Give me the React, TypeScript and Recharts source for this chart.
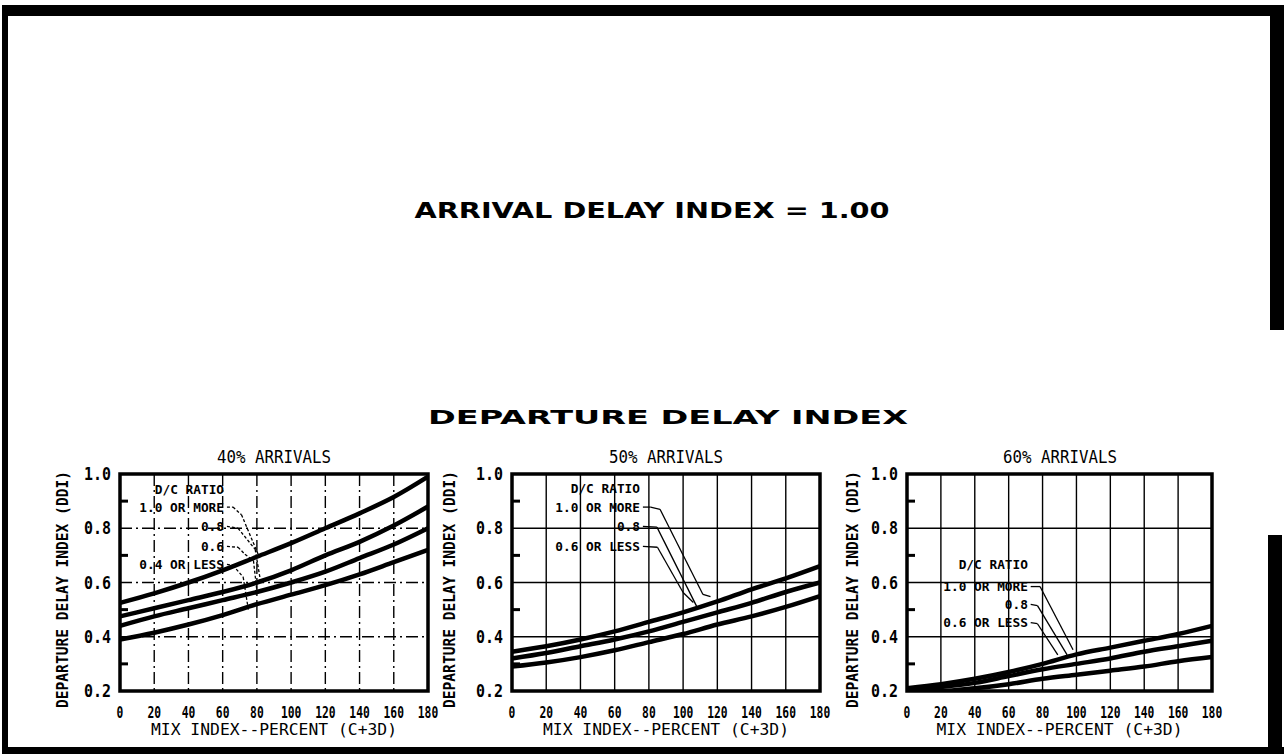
import React from 'react';
import { LineChart, Line, XAxis, YAxis, CartesianGrid, ReferenceArea, ReferenceLine, ReferenceDot } from 'recharts';

const MIX = [0, 20, 40, 60, 80, 100, 120, 140, 160, 180];
const Y_TICKS = [0.2, 0.3, 0.4, 0.5, 0.6, 0.7, 0.8, 0.9, 1.0];
const GRID_X = [20, 40, 60, 80, 100, 120, 140, 160];
const GRID_Y = [0.4, 0.6, 0.8];

// departure delay index (one value per MIX point)
const DDI_40_R10 = [0.525, 0.56, 0.6, 0.645, 0.695, 0.745, 0.8, 0.855, 0.915, 0.99];
const DDI_40_R08 = [0.475, 0.505, 0.535, 0.565, 0.6, 0.645, 0.7, 0.75, 0.81, 0.88];
const DDI_40_R06 = [0.44, 0.475, 0.505, 0.535, 0.565, 0.6, 0.64, 0.69, 0.74, 0.8];
const DDI_40_R04 = [0.39, 0.415, 0.445, 0.48, 0.52, 0.555, 0.59, 0.63, 0.675, 0.72];

const DDI_50_R10 = [0.345, 0.365, 0.39, 0.42, 0.455, 0.49, 0.53, 0.575, 0.615, 0.66];
const DDI_50_R08 = [0.32, 0.34, 0.365, 0.39, 0.42, 0.455, 0.49, 0.525, 0.565, 0.6];
const DDI_50_R06 = [0.29, 0.305, 0.325, 0.35, 0.38, 0.41, 0.445, 0.475, 0.51, 0.55];

const DDI_60_R10 = [0.21, 0.225, 0.245, 0.27, 0.3, 0.335, 0.36, 0.385, 0.41, 0.44];
const DDI_60_R08 = [0.205, 0.215, 0.23, 0.255, 0.28, 0.3, 0.32, 0.345, 0.365, 0.385];
const DDI_60_R06 = [0.2, 0.2, 0.21, 0.225, 0.245, 0.26, 0.275, 0.29, 0.31, 0.325];

const RATIO_LABELS_4 = ['1.0 OR MORE', '0.8', '0.6', '0.4 OR LESS'];
const RATIO_LABELS_3 = ['1.0 OR MORE', '0.8', '0.6 OR LESS'];

const MONO = '"DejaVu Sans Mono", "Liberation Mono", monospace';
const SANS = '"DejaVu Sans", "Liberation Sans", sans-serif';

function rows(series: number[][]) {
  return MIX.map((m, i) => {
    const row: Record<string, number> = { mix: m };
    series.forEach((s, j) => { row['s' + j] = s[i]; });
    return row;
  });
}

type Pt = [number, number];

const PANELS = [
  {
    title: '40% ARRIVALS', left: 50, mr: 22, yGap: 57, gridDash: '12 4 2 4', leaderDash: '3 2',
    series: [DDI_40_R10, DDI_40_R08, DDI_40_R06, DDI_40_R04], labels: RATIO_LABELS_4,
    noteX: 60.8, noteY: [0.944, 0.878, 0.807, 0.733, 0.667],
    leaders: [
      [[62.5, 0.878], [66, 0.878], [71, 0.85], [81, 0.7]],
      [[62.5, 0.807], [69, 0.8], [79, 0.722], [82, 0.61]],
      [[62.5, 0.733], [69, 0.73], [73, 0.704], [78, 0.68], [80, 0.57]],
      [[62.5, 0.667], [66, 0.663], [72, 0.62], [75, 0.5]],
    ] as Pt[][],
  },
  {
    title: '50% ARRIVALS', left: 442, mr: 22, yGap: 62, gridDash: undefined, leaderDash: undefined,
    series: [DDI_50_R10, DDI_50_R08, DDI_50_R06], labels: RATIO_LABELS_3,
    noteX: 74.8, noteY: [0.948, 0.878, 0.807, 0.733],
    leaders: [
      [[76.5, 0.878], [81, 0.878], [86.5, 0.87], [111.6, 0.556], [116, 0.548]],
      [[76.5, 0.807], [84.7, 0.804], [108, 0.511]],
      [[76.5, 0.733], [85, 0.73], [100, 0.563], [106, 0.526]],
    ] as Pt[][],
  },
  {
    title: '60% ARRIVALS', left: 837, mr: 25, yGap: 54, gridDash: undefined, leaderDash: undefined,
    series: [DDI_60_R10, DDI_60_R08, DDI_60_R06], labels: RATIO_LABELS_3,
    noteX: 71.4, noteY: [0.667, 0.585, 0.519, 0.452],
    leaders: [
      [[73, 0.585], [78.5, 0.585], [98, 0.352]],
      [[73, 0.519], [77, 0.515], [94.5, 0.333]],
      [[73, 0.452], [77, 0.448], [89, 0.333]],
    ] as Pt[][],
  },
];

function YTick(p: any) {
  const { x, y, payload } = p;
  const v = Number(payload.value);
  const major = Math.round(v * 10) % 2 === 0;
  const edge = x + 9;
  return (
    <g>
      {!major && <line x1={edge} x2={edge + 8} y1={y} y2={y} stroke="#000" strokeWidth={3} />}
      {major && (
        <text x={x} y={y} dy="0.36em" textAnchor="end" fontFamily={MONO} fontWeight="bold" fontSize={17}
          textLength={27} lengthAdjust="spacingAndGlyphs" fill="#000">{v.toFixed(1)}</text>
      )}
    </g>
  );
}

function XTick(p: any) {
  const { x, y, payload } = p;
  const s = String(payload.value);
  return (
    <text x={x} y={y} dy="0.36em" textAnchor="middle" fontFamily={MONO} fontWeight="bold" fontSize={16}
      textLength={s.length * 6.8} lengthAdjust="spacingAndGlyphs" fill="#000">{s}</text>
  );
}

function noteLabel(text: string) {
  return (lp: any) => {
    const vb = lp.viewBox;
    const cx = vb.x + vb.width / 2;
    const cy = vb.y + vb.height / 2;
    return (
      <text x={cx} y={cy} dy="0.36em" textAnchor="end" fontFamily={MONO} fontWeight="bold" fontSize={12.5}
        textLength={text.length * 7.7} lengthAdjust="spacingAndGlyphs" fill="#000">{text}</text>
    );
  };
}

function Panel({ cfg }: { cfg: typeof PANELS[number] }) {
  const data = rows(cfg.series);
  const notes = ['D/C RATIO', ...cfg.labels];
  return (
    <div style={{ position: 'absolute', left: cfg.left, top: 440 }}>
      <LineChart width={400} height={310} data={data} margin={{ top: 34, right: cfg.mr, bottom: 14, left: 0 }}>
        <CartesianGrid horizontalValues={GRID_Y} verticalValues={GRID_X} stroke="#000" strokeWidth={1.4}
          strokeDasharray={cfg.gridDash} />
        <XAxis dataKey="mix" type="number" domain={[0, 180]} ticks={MIX} interval={0} height={45}
          axisLine={false} tickLine={false} tickSize={0} tickMargin={21} tick={(p: any) => <XTick {...p} />}
          label={{
            content: (lp: any) => {
              const vb = lp.viewBox;
              return (
                <text x={vb.x + vb.width / 2} y={vb.y + 44} textAnchor="middle" fontFamily={MONO} fontSize={16}
                  textLength={246} lengthAdjust="spacingAndGlyphs" fill="#000">MIX INDEX--PERCENT (C+3D)</text>
              );
            },
          }} />
        <YAxis type="number" domain={[0.2, 1.0]} ticks={Y_TICKS} interval={0} width={70} allowDataOverflow
          axisLine={false} tickLine={false} tickSize={0} tickMargin={9} tick={(p: any) => <YTick {...p} />}
          label={{
            content: (lp: any) => {
              const vb = lp.viewBox;
              const cx = vb.x + vb.width - cfg.yGap;
              const cy = vb.y + vb.height / 2 + 7;
              return (
                <text x={cx} y={cy} dy="0.36em" transform={`rotate(-90 ${cx} ${cy})`} textAnchor="middle"
                  fontFamily={MONO} fontWeight="bold" fontSize={15} textLength={237} lengthAdjust="spacingAndGlyphs"
                  fill="#000">DEPARTURE DELAY INDEX (DDI)</text>
              );
            },
          }} />
        {cfg.leaders.map((pts, i) =>
          pts.slice(1).map((pt, j) => (
            <ReferenceLine key={`l${i}-${j}`} segment={[{ x: pts[j][0], y: pts[j][1] }, { x: pt[0], y: pt[1] }]}
              stroke="#000" strokeWidth={1.3} strokeDasharray={cfg.leaderDash} />
          ))
        )}
        {notes.map((t, i) => (
          <ReferenceDot key={`n${i}`} x={cfg.noteX} y={cfg.noteY[i]} r={1} fill="none" stroke="none"
            label={{ content: noteLabel(t) }} />
        ))}
        {cfg.series.map((_, i) => (
          <Line key={i} type="monotone" dataKey={'s' + i} stroke="#000" strokeWidth={4.5} dot={false}
            isAnimationActive={false} />
        ))}
        <ReferenceArea x1={0} x2={180} y1={0.2} y2={1.0} fill="none" stroke="#000" strokeWidth={3.5} />
      </LineChart>
    </div>
  );
}

export default function App() {
  const plotCenters = [274, 666, 1060];
  return (
    <div style={{ position: 'absolute', left: 0, top: 0, width: 1287, height: 754, background: '#fff', overflow: 'hidden' }}>
      <svg width={1287} height={754} style={{ position: 'absolute', left: 0, top: 0 }}>
        <rect x={3} y={5} width={1281} height={11} fill="#000" />
        <rect x={2} y={5} width={6} height={748} fill="#000" />
        <rect x={1270} y={5} width={14} height={325} fill="#000" />
        <rect x={1268} y={535} width={14} height={216} fill="#000" />
        <rect x={2} y={747} width={1282} height={7} fill="#000" />
        <text x={652} y={218} textAnchor="middle" fontFamily={SANS} fontWeight="bold" fontSize={21}
          textLength={475} lengthAdjust="spacingAndGlyphs" fill="#000">ARRIVAL DELAY INDEX = 1.00</text>
        <text x={668} y={424} textAnchor="middle" fontFamily={SANS} fontWeight="bold" fontSize={19}
          textLength={480} lengthAdjust="spacingAndGlyphs" fill="#000">DEPARTURE  DELAY  INDEX</text>
        {PANELS.map((p, i) => (
          <text key={p.title} x={plotCenters[i]} y={463} textAnchor="middle" fontFamily={MONO} fontSize={17}
            textLength={114} lengthAdjust="spacingAndGlyphs" fill="#000">{p.title}</text>
        ))}
      </svg>
      {PANELS.map((p) => <Panel key={p.title} cfg={p} />)}
    </div>
  );
}
